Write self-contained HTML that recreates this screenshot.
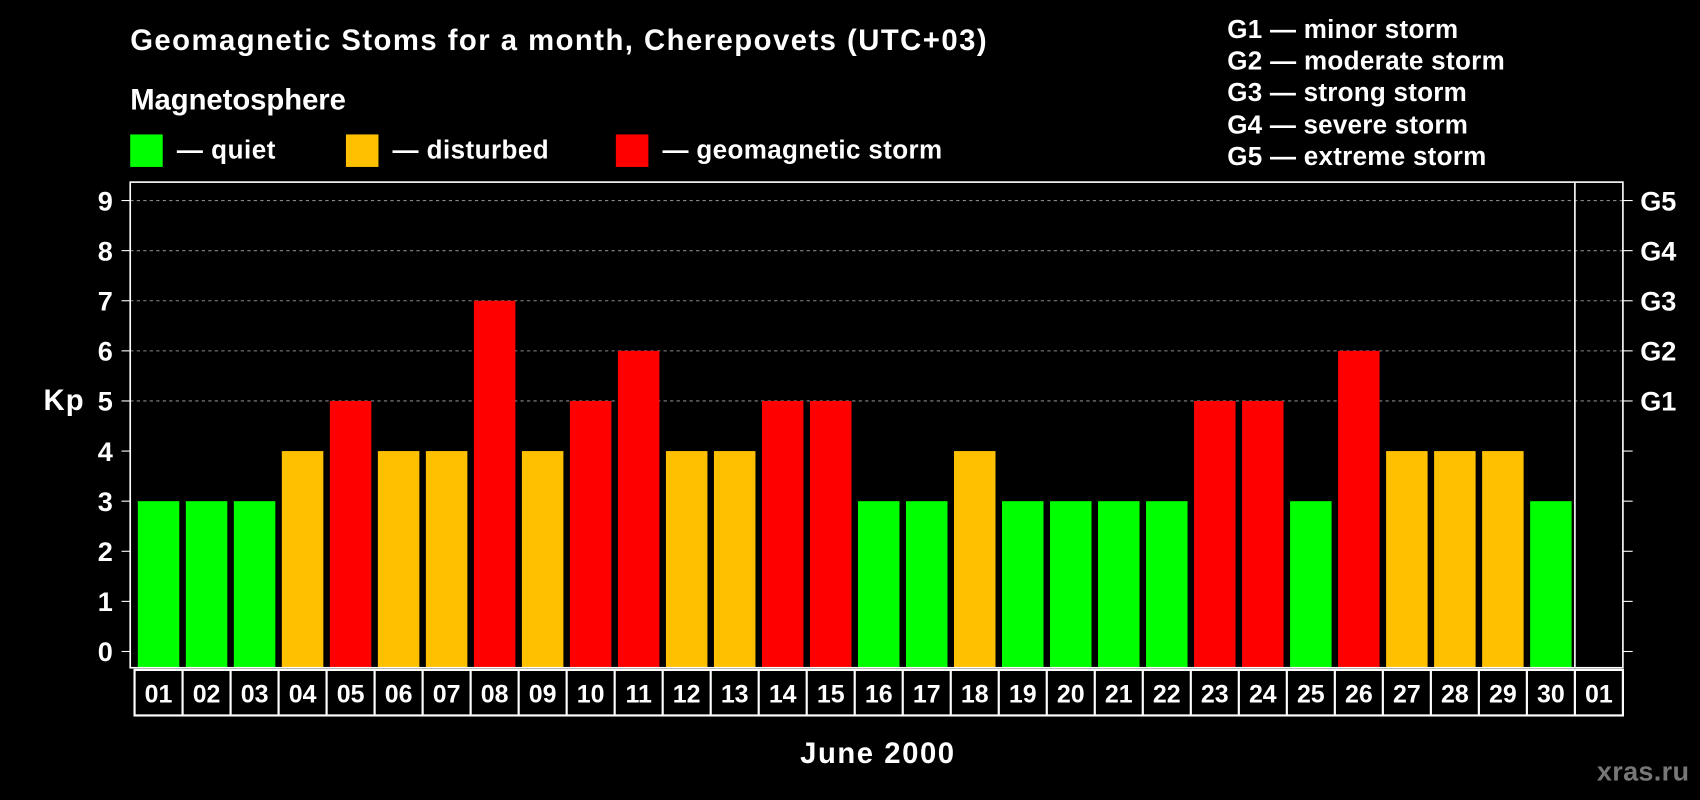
<!DOCTYPE html>
<html><head><meta charset="utf-8"><style>
html,body{margin:0;padding:0;background:#000;}
svg{display:block;font-family:"Liberation Sans",sans-serif;font-weight:bold;}
</style></head><body>
<svg id="chart" width="1700" height="800" viewBox="0 0 1568 738" xmlns="http://www.w3.org/2000/svg">
<rect width="1568" height="738" fill="#000"/>
<text x="120" y="46" fill="#fff" font-size="27" textLength="790" lengthAdjust="spacing">Geomagnetic Stoms for a month, Cherepovets (UTC+03)</text>
<text x="120" y="101" fill="#fff" font-size="27" textLength="199" lengthAdjust="spacing">Magnetosphere</text>
<g><rect x="120" y="124" width="30" height="30" fill="#00ff00"/><text x="163" y="146" fill="#fff" font-size="24" textLength="91" lengthAdjust="spacing">— quiet</text></g>
<g><rect x="319" y="124" width="30" height="30" fill="#ffc000"/><text x="362" y="146" fill="#fff" font-size="24" textLength="144" lengthAdjust="spacing">— disturbed</text></g>
<g><rect x="568" y="124" width="30" height="30" fill="#ff0000"/><text x="611" y="146" fill="#fff" font-size="24" textLength="258" lengthAdjust="spacing">— geomagnetic storm</text></g>
<g fill="#fff" font-size="24">
<text x="1132" y="35" textLength="213" lengthAdjust="spacing">G1 — minor storm</text>
<text x="1132" y="64" textLength="256" lengthAdjust="spacing">G2 — moderate storm</text>
<text x="1132" y="93" textLength="221" lengthAdjust="spacing">G3 — strong storm</text>
<text x="1132" y="123" textLength="222" lengthAdjust="spacing">G4 — severe storm</text>
<text x="1132" y="152" textLength="239" lengthAdjust="spacing">G5 — extreme storm</text>
</g>
<text x="40" y="378" fill="#fff" font-size="27" textLength="37" lengthAdjust="spacing">Kp</text>
<text x="738" y="704" fill="#fff" font-size="27" textLength="142" lengthAdjust="spacing">June 2000</text>
<text x="1473" y="720" fill="#777" font-size="25" textLength="85" lengthAdjust="spacing">xras.ru</text>
<g id="grid"></g><g id="bars"></g><g id="axes"></g><g id="dates"></g>
</svg>
<script>
const days = ["01","02","03","04","05","06","07","08","09","10","11","12","13","14","15","16","17","18","19","20","21","22","23","24","25","26","27","28","29","30","01"];
const kpValues = [3,3,3,4,5,4,4,7,4,5,6,4,4,5,5,3,3,4,3,3,3,3,5,5,3,6,4,4,4,3];
const yTicks = [0,1,2,3,4,5,6,7,8,9];
const gLabels = ["","","","","","G1","G2","G3","G4","G5"];
const NS="http://www.w3.org/2000/svg";
const L=120,R=1497,T=168,B=616,x0=124,slot=(R-x0)/31;
const y=v=>601-v*(601-185)/9;
const x=i=>x0+i*slot;
function mk(tag,attrs,parent){const e=document.createElementNS(NS,tag);for(const k in attrs)e.setAttribute(k,attrs[k]);parent.appendChild(e);return e;}
const grid=document.getElementById('grid'),bars=document.getElementById('bars'),axes=document.getElementById('axes'),dates=document.getElementById('dates');
yTicks.forEach(v=>{
  if(v>=5){const g=mk('line',{x1:L,x2:R,y1:y(v),y2:y(v),stroke:'#888','stroke-dasharray':'3,3','stroke-width':1},grid);
    
    }
  const t=mk('text',{x:104,y:y(v)+9,fill:'#fff','font-size':25,'text-anchor':'end'},axes);t.textContent=v;
  
  
  mk('line',{x1:112,x2:L,y1:y(v),y2:y(v),stroke:'#fff'},axes);
  mk('line',{x1:R,x2:R+9,y1:y(v),y2:y(v),stroke:'#fff'},axes);
  if(gLabels[v]){const g=mk('text',{x:1513,y:y(v)+9,fill:'#fff','font-size':25},axes);g.textContent=gLabels[v];
    
    }
});
kpValues.forEach((v,i)=>{
  const c=v<=3?'#00ff00':(v==4?'#ffc000':'#ff0000');
  const b=mk('rect',{x:x(i)+3,y:y(v),width:slot-6,height:B-y(v),fill:c},bars);
  
  
});
mk('rect',{x:L,y:T,width:R-L,height:B-T,fill:'none',stroke:'#fff','stroke-width':1.5},axes);
mk('line',{x1:x(30),x2:x(30),y1:T,y2:B,stroke:'#fff','stroke-width':1.5},axes);
mk('rect',{x:x0,y:618,width:R-x0,height:42,fill:'none',stroke:'#fff','stroke-width':2},dates);
days.forEach((d,i)=>{
  if(i>0)mk('line',{x1:x(i),x2:x(i),y1:618,y2:660,stroke:'#fff','stroke-width':2},dates);
  const t=mk('text',{x:x(i)+slot/2,y:648,fill:'#fff','font-size':23,'text-anchor':'middle'},dates);t.textContent=d;
  
  
});
</script>
</body></html>
